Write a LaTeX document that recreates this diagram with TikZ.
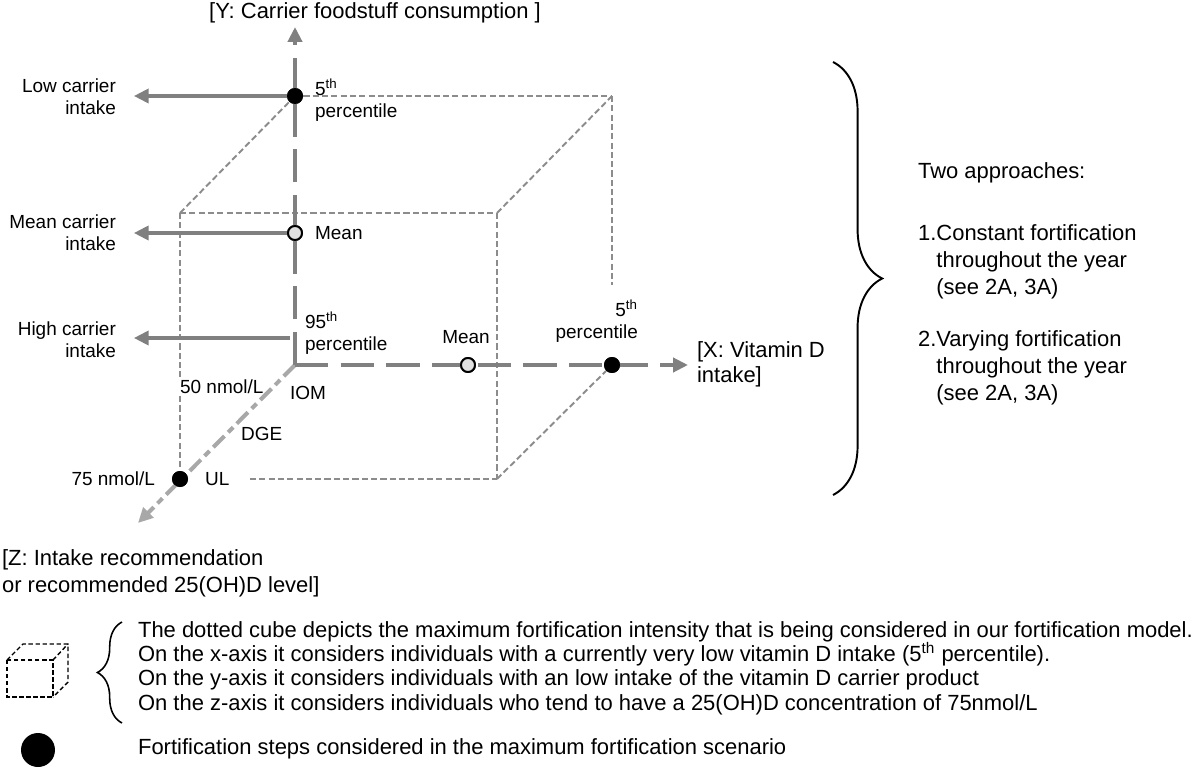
\documentclass[tikz,border=0pt]{standalone}
\usepackage{fontspec}
\setmainfont{Liberation Sans}
\usetikzlibrary{arrows.meta}
\usetikzlibrary{decorations.pathreplacing}
\usetikzlibrary{calc}
\definecolor{axisgray}{gray}{0.5}
\definecolor{zgray}{gray}{0.66}
\definecolor{cubegray}{gray}{0.55}
\definecolor{meanfill}{gray}{0.88}
\newcommand{\bigtext}{\fontsize{12.5}{15.4}\selectfont}
\newcommand{\smalltext}{\fontsize{10.8}{12.5}\selectfont}
\tikzset{
	axisline/.style={line width=2.3pt, draw=axisgray, dash pattern=on 19pt off 7pt, -{Triangle[length=8.5pt,width=8pt]}},
	zaxisline/.style={line width=2.3pt, draw=zgray, dash pattern=on 9pt off 3pt on 4pt off 3pt, -{Triangle[length=8.5pt,width=8pt]}},
	carrier/.style={line width=2.3pt, draw=axisgray, shorten >=9pt, -{Triangle[length=8.5pt,width=8pt]}},
	cubeedge/.style={line width=1.1pt, draw=cubegray, dash pattern=on 3.5pt off 1.8pt},
	fulldot/.style={circle, fill=black, inner sep=0pt, minimum size=0.32cm},
	meandot/.style={circle, draw=black, line width=1.1pt, fill=meanfill, inner sep=0pt, minimum size=0.28cm},
	lbl/.style={font=\smalltext, inner sep=1pt},
	biglbl/.style={font=\bigtext, inner sep=1pt}
}
\begin{document}
\begin{tikzpicture}[x=0.02cm, y=-0.02cm]
	\useasboundingbox (0,0) rectangle (1200,770);
	% axes end points
	\coordinate (O) at (295,365);
	\coordinate (ytip) at (295,27);
	\coordinate (xtip) at (688,365);
	\coordinate (ztip) at (138,523);
	% cube corners
	\coordinate (ftl) at (180,213);
	\coordinate (ftr) at (497,213);
	\coordinate (fbr) at (497,479);
	\coordinate (btr) at (612,96);
	\coordinate (brstop) at (612,285);
	\coordinate (ulend) at (250,479);
	\coordinate (yhigh) at (290,338);
	% dots
	\node[fulldot] (ylow) at (295,96) {};
	\node[meandot] (ymean) at (295,233) {};
	\node[meandot] (xmean) at (468,365) {};
	\node[fulldot] (xlow) at (612,365) {};
	\node[fulldot] (zul) at (180,479) {};
	% labels
	\node[biglbl] (ytitle) at (375,13) {[Y: Carrier foodstuff consumption ]};
	\node[biglbl, anchor=west, align=left, font=\fontsize{12.5}{14.2}\selectfont] (xtitle) at (695,364) {[X: Vitamin D\\intake]};
	\node[biglbl, anchor=west, align=left, font=\fontsize{12.5}{15.4}\selectfont] (ztitle) at (0,573) {[Z: Intake recommendation\\or recommended 25(OH)D level]};
	\node[lbl, anchor=east, align=right] (lowlbl) at (118,97) {Low carrier\\intake};
	\node[lbl, anchor=east, align=right] (meanlbl) at (118,233) {Mean carrier\\intake};
	\node[lbl, anchor=east, align=right] (highlbl) at (118,340) {High carrier\\intake};
	\node[lbl, anchor=west, align=left] (ylowlbl) at (313,100) {5\textsuperscript{th}\\percentile};
	\node[lbl, anchor=west] (ymeanlbl) at (313,233) {Mean};
	\node[lbl, anchor=west, align=left] (yhighlbl) at (303,333) {95\textsuperscript{th}\\percentile};
	\node[lbl] (xmeanlbl) at (466,337) {Mean};
	\node[lbl, anchor=east, align=right] (xlowlbl) at (640,321) {5\textsuperscript{th}\\percentile};
	\node[lbl, anchor=west] (fiftylbl) at (178,387) {50 nmol/L};
	\node[lbl, anchor=west] (iomlbl) at (288,393) {IOM};
	\node[lbl, anchor=west] (dgelbl) at (239,434) {DGE};
	\node[lbl, anchor=east] (seventylbl) at (157,479) {75 nmol/L};
	\node[lbl, anchor=west] (ullbl) at (203,479) {UL};
	% dotted cube
	\draw[cubeedge] (ftl) -- (ylow);
	\draw[cubeedge] (ylow) -- (btr);
	\draw[cubeedge] (btr) -- (brstop);
	\draw[cubeedge] (ftl) -- (ftr);
	\draw[cubeedge] (ftr) -- (btr);
	\draw[cubeedge] (ftr) -- (fbr);
	\draw[cubeedge] (fbr) -- (xlow);
	\draw[cubeedge] (ulend) -- (fbr);
	\draw[cubeedge] (ftl) -- (ftl |- fiftylbl.north);
	\draw[cubeedge] (ftl |- fiftylbl.south) -- (zul);
	% axes
	\draw[zaxisline] (O) -- (ztip);
	\draw[axisline] (O) -- (ytip);
	\draw[axisline] (O) -- (xtip);
	% carrier intake arrows
	\draw[carrier] (ylow.center) -- (ylow -| lowlbl.east);
	\draw[carrier] (ymean.west) -- (ymean -| meanlbl.east);
	\draw[carrier] (yhigh) -- (yhigh -| highlbl.east);
	% dots again on top
	\node[fulldot] at (ylow) {};
	\node[meandot] at (ymean) {};
	\node[meandot] at (xmean) {};
	\node[fulldot] at (xlow) {};
	\node[fulldot] at (zul) {};
	% approaches
	\coordinate (bracetop) at (833,62);
	\coordinate (bracebot) at (833,495);
	\draw[decorate, decoration={brace, amplitude=28pt}, line width=1.1pt] (bracetop) -- (bracebot);
	\node[biglbl, anchor=west] (twoapp) at (916,173) {Two approaches:};
	\node[biglbl, anchor=west] (appone) at (916,262) {\begin{tabular}{@{}l@{}l@{}}1.&Constant fortification\\&throughout the year\\&(see 2A, 3A)\end{tabular}};
	\node[biglbl, anchor=west] (apptwo) at (916,368) {\begin{tabular}{@{}l@{}l@{}}2.&Varying fortification\\&throughout the year\\&(see 2A, 3A)\end{tabular}};
	% legend
	\draw[line width=0.8pt, dash pattern=on 2.5pt off 1.5pt] (7,660) rectangle (53,697);
	\draw[line width=0.8pt, dash pattern=on 2.5pt off 1.5pt] (7,660) -- (23,644) -- (68,644) -- (68,682) -- (53,697);
	\draw[line width=0.8pt, dash pattern=on 2.5pt off 1.5pt] (53,660) -- (68,644);
	\coordinate (legbot) at (122,723);
	\coordinate (legtop) at (122,622);
	\draw[decorate, decoration={brace, amplitude=14pt}, line width=0.9pt] (legbot) -- (legtop);
	\node[biglbl, anchor=west, align=left, font=\fontsize{12.5}{13.8}\selectfont] (legtext) at (136,668) {The dotted cube depicts the maximum fortification intensity that is being considered in our fortification model.\\On the x-axis it considers individuals with a currently very low vitamin D intake (5\textsuperscript{th} percentile).\\On the y-axis it considers individuals with an low intake of the vitamin D carrier product\\On the z-axis it considers individuals who tend to have a 25(OH)D concentration of 75nmol/L};
	\node[circle, fill=black, inner sep=0pt, minimum size=0.68cm] (legdot) at (38,750) {};
	\node[biglbl, anchor=west] (legdotlbl) at (136,749) {Fortification steps considered in the maximum fortification scenario};
\end{tikzpicture}
\end{document}
